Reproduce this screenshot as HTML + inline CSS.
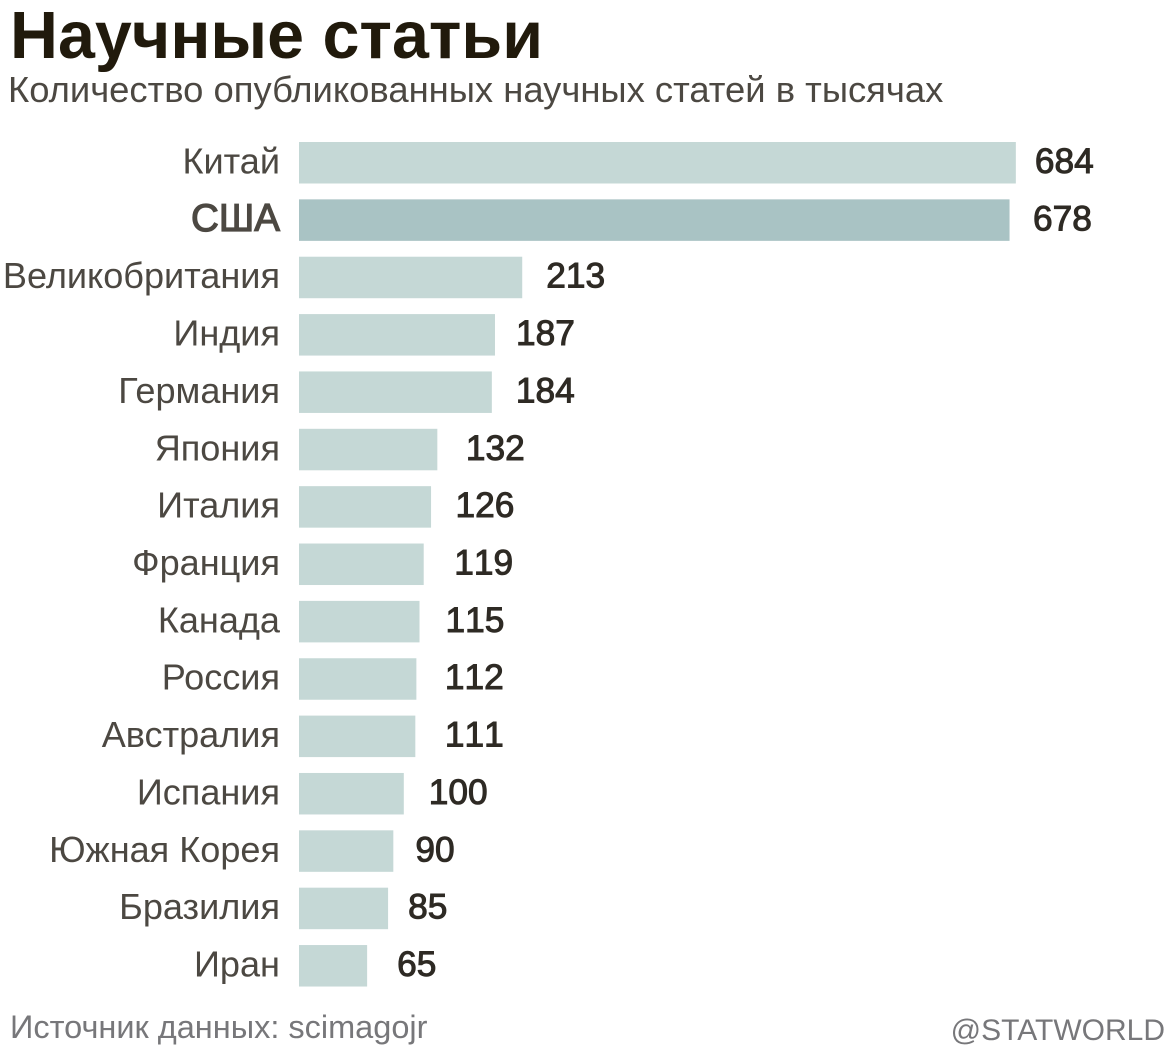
<!DOCTYPE html>
<html lang="ru">
<head>
<meta charset="utf-8">
<title>Научные статьи</title>
<style>
html,body{margin:0;padding:0;background:#fff;}
svg{display:block;font-family:"Liberation Sans",Arial,sans-serif;}
</style>
</head>
<body>
<svg id="chart" width="1166" height="1047" viewBox="0 0 1166 1047" xmlns="http://www.w3.org/2000/svg">
  <rect width="1166" height="1047" fill="#ffffff"/>
  <text x="10" y="58" font-size="66.4" font-weight="700" fill="#211a0c">Научные статьи</text>
  <text x="8" y="102" font-size="36.4" fill="#4c4842">Количество опубликованных научных статей в тысячах</text>
  <g id="bars"></g>
  <g id="categories"></g>
  <g id="values"></g>
  <text x="10" y="1038" font-size="32.5" fill="#77777a">Источник данных: scimagojr</text>
  <text x="1165" y="1040" font-size="30" text-anchor="end" fill="#77777a">@STATWORLD</text>
</svg>
<script>
const categories = ["Китай","США","Великобритания","Индия","Германия","Япония","Италия","Франция","Канада","Россия","Австралия","Испания","Южная Корея","Бразилия","Иран"];
const seriesValues = [684,678,213,187,184,132,126,119,115,112,111,100,90,85,65];
const highlighted = ["США"];
const labelNudges = [-6,-1.5,-1,-4,-1,3.5,-0.5,5.5,1,3.5,4.5,0,-3,-5,5];

const NS = "http://www.w3.org/2000/svg";
const x0 = 299, pxPerUnit = 1.048, yTop = 142, yStep = 57.36, barH = 41.5, labelGap = 25;
function xScale(v){ return x0 + v * pxPerUnit; }
function yScale(i){ return yTop + i * yStep; }

const barsG = document.getElementById("bars");
const catsG = document.getElementById("categories");
const valsG = document.getElementById("values");

categories.forEach(function(cat, i){
  const v = seriesValues[i];
  const hi = highlighted.indexOf(cat) >= 0;
  const y = yScale(i);

  const bar = document.createElementNS(NS, "rect");
  
  
  bar.setAttribute("x", x0);
  bar.setAttribute("y", y);
  bar.setAttribute("width", xScale(v) - x0);
  bar.setAttribute("height", barH);
  bar.setAttribute("fill", hi ? "#a9c3c4" : "#c5d8d6");
  barsG.appendChild(bar);

  const label = document.createElementNS(NS, "text");
  
  
  label.setAttribute("x", 280);
  label.setAttribute("y", y + 31.5);
  label.setAttribute("text-anchor", "end");
  label.setAttribute("font-size", hi ? "38.6" : "36.1");
  label.setAttribute("fill", "#4c4842");
  if (hi) {
    label.setAttribute("stroke", "#4c4842");
    label.setAttribute("stroke-width", "1.2");
  }
  label.textContent = cat;
  catsG.appendChild(label);

  const val = document.createElementNS(NS, "text");
  
  
  val.setAttribute("x", xScale(v) + labelGap + labelNudges[i]);
  val.setAttribute("y", y + 31);
  val.setAttribute("font-size", "35.3");
  val.setAttribute("fill", "#2e2a24");
  val.setAttribute("stroke", "#2e2a24");
  val.setAttribute("stroke-width", "1");
  val.setAttribute("style", "font-kerning:none");
  val.textContent = v;
  valsG.appendChild(val);
});
</script>
</body>
</html>
